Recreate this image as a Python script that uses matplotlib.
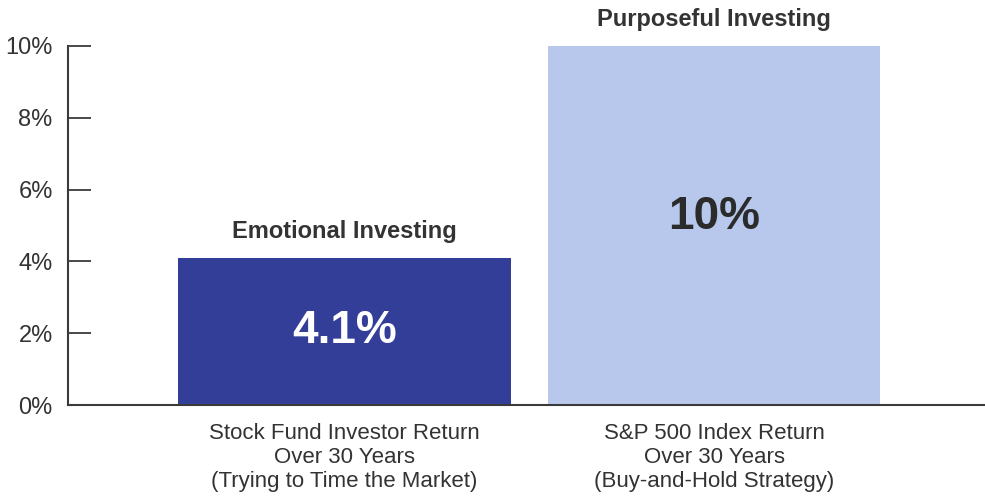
import matplotlib
matplotlib.use("Agg")
import matplotlib.pyplot as plt

categories = ["Stock Fund Investor Return\nOver 30 Years\n(Trying to Time the Market)",
              "S&P 500 Index Return\nOver 30 Years\n(Buy-and-Hold Strategy)"]
headers = ["Emotional Investing", "Purposeful Investing"]
values = [4.1, 10.0]
value_labels = ["4.1%", "10%"]
yticks = [0, 2, 4, 6, 8, 10]
ytick_labels = ["0%", "2%", "4%", "6%", "8%", "10%"]

bar_colors = ["#323e98", "#b8c8ec"]
value_colors = ["white", "#2b2b2b"]
value_dy = [0, 6]
txt = "#333333"

plt.rcParams['font.family'] = ['Liberation Sans', 'DejaVu Sans']

fig = plt.figure(figsize=(9.85, 4.97), dpi=100)
ax = fig.add_axes([68/985, 92/497, 917/985, 359/497])

x = [0, 1]
ax.bar(x, values, width=0.9, color=bar_colors, zorder=1)
ax.set_xlim(-0.748, 1.733)
ax.set_ylim(0, 10)

for spine in ["top", "right"]:
    ax.spines[spine].set_visible(False)
for spine in ["left", "bottom"]:
    ax.spines[spine].set_color("#3a3a3a")
    ax.spines[spine].set_linewidth(1.5)
    ax.spines[spine].set_zorder(3)

ax.set_yticks(yticks)
ax.set_yticklabels(ytick_labels)
ax.tick_params(axis="y", direction="in", length=16.5, width=1.3, color="#3a3a3a",
               pad=11, labelsize=17, labelcolor=txt)
ax.set_xticks([])

for xi, v, h, vl, vc, dy, cat in zip(x, values, headers, value_labels, value_colors, value_dy, categories):
    ax.annotate(h, (xi, v), xytext=(0, 19), textcoords="offset points",
                ha="center", va="center", fontsize=17, fontweight="bold", color=txt)
    ax.annotate(vl, (xi, v / 2), xytext=(0, dy), textcoords="offset points",
                ha="center", va="center", fontsize=33, fontweight="bold", color=vc)
    ax.annotate(cat, (xi, 0), xytext=(0, -13), textcoords="offset points",
                ha="center", va="top", fontsize=16, color=txt, linespacing=1.19)

fig.savefig("out.png", dpi=100)
